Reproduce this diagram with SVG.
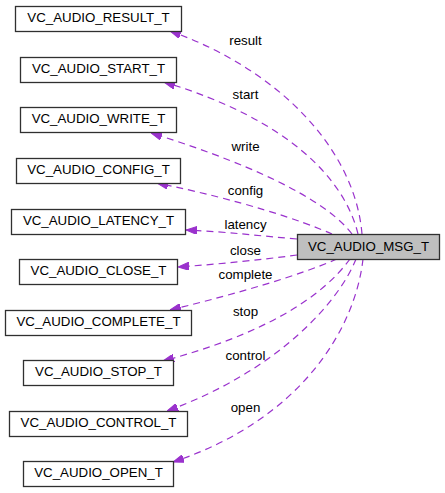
<svg xmlns="http://www.w3.org/2000/svg" width="445" height="493" viewBox="0 0 445 493">
<style>
.box rect{fill:#fff;stroke:#303030;stroke-width:1.3}
#msg rect{fill:#bfbfbf}
text{font-family:"Liberation Sans",Arial,sans-serif;font-size:13.3px;fill:#000;text-anchor:middle}
.e path{fill:none;stroke:#9a32cd;stroke-width:1.2;stroke-dasharray:7,5}
</style>
<defs>
<marker id="ah" viewBox="0 0 11 8" refX="11" refY="4" markerWidth="11" markerHeight="8" markerUnits="userSpaceOnUse" orient="auto">
<path d="M0,0 L11,4 L0,8 z" fill="#9a32cd" stroke="#9a32cd"/>
</marker>
</defs>
<rect width="445" height="493" fill="#fff"/>
<g id="edges" class="e">
<path d="M362,234 C355,150 280,70 170,31" marker-end="url(#ah)"/>
<path d="M358,234 C345,180 290,120 164,82" marker-end="url(#ah)"/>
<path d="M352,234 C330,205 270,170 151,133" marker-end="url(#ah)"/>
<path d="M332,234 C300,220 240,200 157,183" marker-end="url(#ah)"/>
<path d="M297,239 C260,236 230,232 186,230" marker-end="url(#ah)"/>
<path d="M297,255 C260,260 220,264 178,267" marker-end="url(#ah)"/>
<path d="M337,259 C300,275 240,293 170,310" marker-end="url(#ah)"/>
<path d="M350,259 C320,300 260,335 163,361" marker-end="url(#ah)"/>
<path d="M356,259 C340,300 280,370 167,411" marker-end="url(#ah)"/>
<path d="M363,259 C355,330 300,420 173,462" marker-end="url(#ah)"/>
<text x="245.5" y="45">result</text>
<text x="245.5" y="99">start</text>
<text x="245.5" y="151">write</text>
<text x="245.5" y="195">config</text>
<text x="245.5" y="229">latency</text>
<text x="245.5" y="255">close</text>
<text x="245.5" y="279">complete</text>
<text x="245.5" y="316">stop</text>
<text x="245.5" y="360">control</text>
<text x="245.5" y="412">open</text>
</g>
<g id="msg" class="box"><rect x="297.5" y="234.5" width="142" height="25"/><text x="368.5" y="250.5">VC_AUDIO_MSG_T</text></g>
<g id="result" class="box"><rect x="15.5" y="6.5" width="166" height="25"/><text x="98.5" y="22">VC_AUDIO_RESULT_T</text></g>
<g id="start" class="box"><rect x="20.5" y="57.5" width="156" height="25"/><text x="98.5" y="73">VC_AUDIO_START_T</text></g>
<g id="write" class="box"><rect x="20.5" y="107.5" width="156" height="25"/><text x="98.5" y="123">VC_AUDIO_WRITE_T</text></g>
<g id="config" class="box"><rect x="16.5" y="158.5" width="164" height="25"/><text x="98.5" y="174">VC_AUDIO_CONFIG_T</text></g>
<g id="latency" class="box"><rect x="11.5" y="209.5" width="174" height="25"/><text x="98.5" y="225">VC_AUDIO_LATENCY_T</text></g>
<g id="close" class="box"><rect x="19.5" y="259.5" width="158" height="25"/><text x="98.5" y="275">VC_AUDIO_CLOSE_T</text></g>
<g id="complete" class="box"><rect x="5.5" y="310.5" width="186" height="25"/><text x="98.5" y="326">VC_AUDIO_COMPLETE_T</text></g>
<g id="stop" class="box"><rect x="23.5" y="360.5" width="150" height="25"/><text x="98.5" y="376">VC_AUDIO_STOP_T</text></g>
<g id="control" class="box"><rect x="9.5" y="411.5" width="178" height="25"/><text x="98.5" y="427">VC_AUDIO_CONTROL_T</text></g>
<g id="open" class="box"><rect x="23.5" y="461.5" width="150" height="25"/><text x="98.5" y="477">VC_AUDIO_OPEN_T</text></g>
</svg>
